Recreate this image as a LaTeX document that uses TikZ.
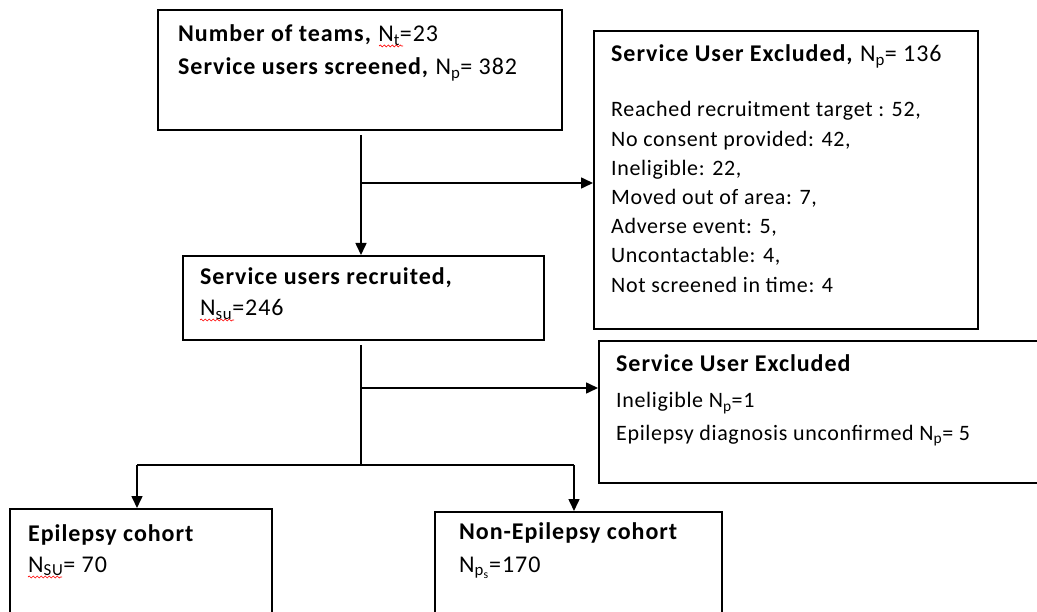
\documentclass[tikz,border=0pt]{standalone}
\usepackage{fontspec}
\setmainfont{Carlito}
\newfontfamily\titlefont[LetterSpace=4]{Carlito}
\newfontfamily\itemfont[LetterSpace=3]{Carlito}
\usetikzlibrary{arrows.meta,decorations.pathmorphing}
\tikzset{
  box/.style={draw=black, line width=1.6pt, rectangle, inner sep=0pt, anchor=north west},
  conn/.style={draw=black, line width=1.6pt},
  arr/.style={conn, -{Triangle[length=12pt,width=11pt]}},
  txt/.style={anchor=base west, inner sep=0pt, font=\titlefont\fontsize{24}{28}\selectfont},
  itm/.style={anchor=base west, inner sep=0pt, font=\itemfont\fontsize{22}{26}\selectfont},
  spell/.style={draw=red, line width=0.7pt, decorate, decoration={snake, amplitude=1pt, segment length=4pt}}
}
\begin{document}
\begin{tikzpicture}[x=1pt,y=-1pt]
\useasboundingbox (0,0) rectangle (1037,612);
% boxes
\node[box, minimum width=404pt, minimum height=120pt] (b1) at (157,9) {};
\node[box, minimum width=384pt, minimum height=298pt] (b2) at (593,30) {};
\node[box, minimum width=361pt, minimum height=84pt] (b3) at (182,255) {};
\node[box, minimum width=450pt, minimum height=142pt] (b4) at (598,340) {};
\node[box, minimum width=262pt, minimum height=120pt] (b5) at (9,508) {};
\node[box, minimum width=287pt, minimum height=120pt] (b6) at (434,511) {};
% texts
\node[txt] (t1a) at (178,42) {\textbf{Number of teams,} N\textsubscript{t}=23};
\node[txt] (t1b) at (178,75) {\textbf{Service users screened,} N\textsubscript{p}= 382};
\node[txt] (t2a) at (611,62) {\textbf{Service User Excluded,} N\textsubscript{p}= 136};
\node[itm] (t2b) at (611,117) {Reached recruitment target : 52,};
\node[itm] (t2c) at (611,147) {No consent provided: 42,};
\node[itm] (t2d) at (611,176) {Ineligible: 22,};
\node[itm] (t2e) at (611,205) {Moved out of area: 7,};
\node[itm] (t2f) at (611,234) {Adverse event: 5,};
\node[itm] (t2g) at (611,263) {Uncontactable: 4,};
\node[itm] (t2h) at (611,293) {Not screened in time: 4};
\node[txt] (t3a) at (200,285) {\textbf{Service users recruited,}};
\node[txt] (t3b) at (200,316) {N\textsubscript{su}=246};
\node[txt] (t4a) at (616,372) {\textbf{Service User Excluded}};
\node[itm] (t4b) at (616,408) {Ineligible N\textsubscript{p}=1};
\node[itm] (t4c) at (616,440) {Epilepsy diagnosis unconfirmed N\textsubscript{p}= 5};
\node[txt] (t5a) at (28,541) {\textbf{Epilepsy cohort}};
\node[txt] (t5b) at (28,572) {N\textsubscript{SU}= 70};
\node[txt] (t6a) at (459,539) {\textbf{Non-Epilepsy cohort}};
\node[txt] (t6b) at (459,572) {N\textsubscript{p\textsubscript{s}}=170};
% spell-check marks
\draw[spell] (379,46) -- (403,46);
\draw[spell] (200,320) -- (234,320);
\draw[spell] (28,577) -- (62,577);
% connectors
\coordinate (s1) at (361,135);
\coordinate (j1) at (361,183);
\draw[arr] (s1) -- (s1 |- b3.north);
\draw[arr] (j1) -- (j1 -| b2.west);
\coordinate (s2) at (361,345);
\coordinate (j2) at (361,388);
\coordinate (j3) at (361,465);
\coordinate (l) at (137,465);
\coordinate (r) at (574,465);
\draw[conn] (s2) -- (j3);
\draw[arr] (j2) -- (j2 -| b4.west);
\draw[conn] (l) -- (r);
\draw[arr] (l) -- (l |- b5.north);
\draw[arr] (r) -- (r |- b6.north);
\end{tikzpicture}
\end{document}
